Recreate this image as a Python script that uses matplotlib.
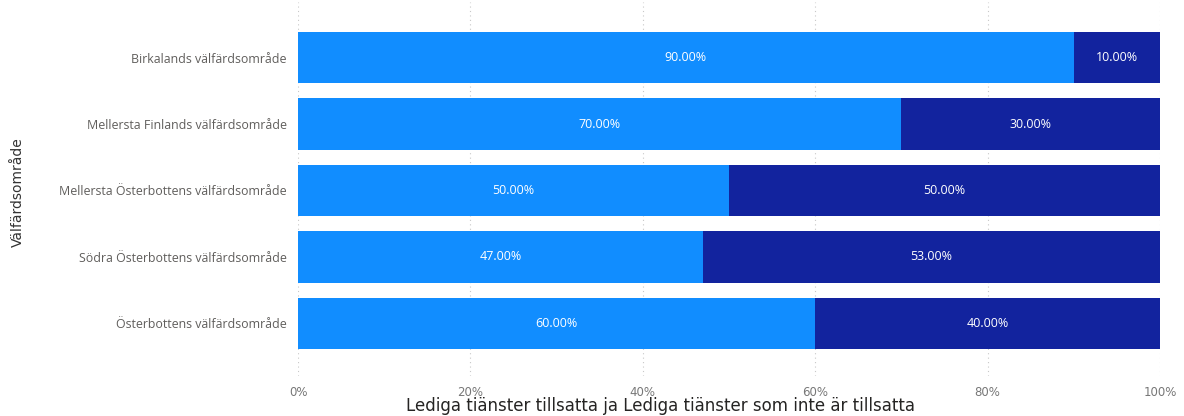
import matplotlib.pyplot as plt
import numpy as np

regions = ['Birkalands välfärdsområde',
           'Mellersta Finlands välfärdsområde',
           'Mellersta Österbottens välfärdsområde',
           'Södra Österbottens välfärdsområde',
           'Österbottens välfärdsområde']
tillsatta = [90, 70, 50, 47, 60]
inte_tillsatta = [10, 30, 50, 53, 40]
x_ticks = [0, 20, 40, 60, 80, 100]

light = '#118DFF'
dark = '#12239E'

plt.rcParams['font.family'] = ['Open Sans', 'DejaVu Sans']

fig = plt.figure(figsize=(11.84, 4.16), dpi=100)
ax = fig.add_axes([298 / 1184, 1 - 376 / 416, 862 / 1184, 374 / 416])

y = np.arange(len(regions))
ax.barh(y, tillsatta, height=0.77, color=light, zorder=2)
ax.barh(y, inte_tillsatta, left=tillsatta, height=0.77, color=dark, zorder=2)

# data labels in the middle of every segment
for i in range(len(regions)):
    ax.text(tillsatta[i] / 2, i, f'{tillsatta[i]:.2f}%', ha='center', va='center',
            color='white', fontsize=9, zorder=3)
    ax.text(tillsatta[i] + inte_tillsatta[i] / 2, i, f'{inte_tillsatta[i]:.2f}%',
            ha='center', va='center', color='white', fontsize=9, zorder=3)

ax.set_xlim(0, 100)
ax.set_ylim(4.79, -0.835)
ax.set_yticks(y)
ax.set_yticklabels(regions, fontsize=8.9, color='#605E5C')
ax.set_xticks(x_ticks)
ax.set_xticklabels([f'{t}%' for t in x_ticks], fontsize=8.5, color='#777777',
                   family=['DejaVu Sans Condensed', 'DejaVu Sans'])
ax.tick_params(axis='both', length=0)
ax.tick_params(axis='y', pad=8)
ax.tick_params(axis='x', pad=7)
ax.grid(axis='x', linestyle=(0, (1, 3)), color='#C8C8C8', linewidth=0.8, zorder=0)
for s in ax.spines.values():
    s.set_visible(False)

fig.text(18 / 1184, 1 - 192 / 416, 'Välfärdsområde', rotation=90, ha='center', va='center',
         fontsize=10, color='#333333', family=['DejaVu Sans Condensed', 'DejaVu Sans'])
fig.text(660 / 1184, 1 / 416, 'Lediga tiänster tillsatta ja Lediga tiänster som inte är tillsatta',
         ha='center', va='bottom', fontsize=12, color='#252423',
         family=['DejaVu Sans Condensed', 'DejaVu Sans'])

fig.savefig('out.png', dpi=100)
